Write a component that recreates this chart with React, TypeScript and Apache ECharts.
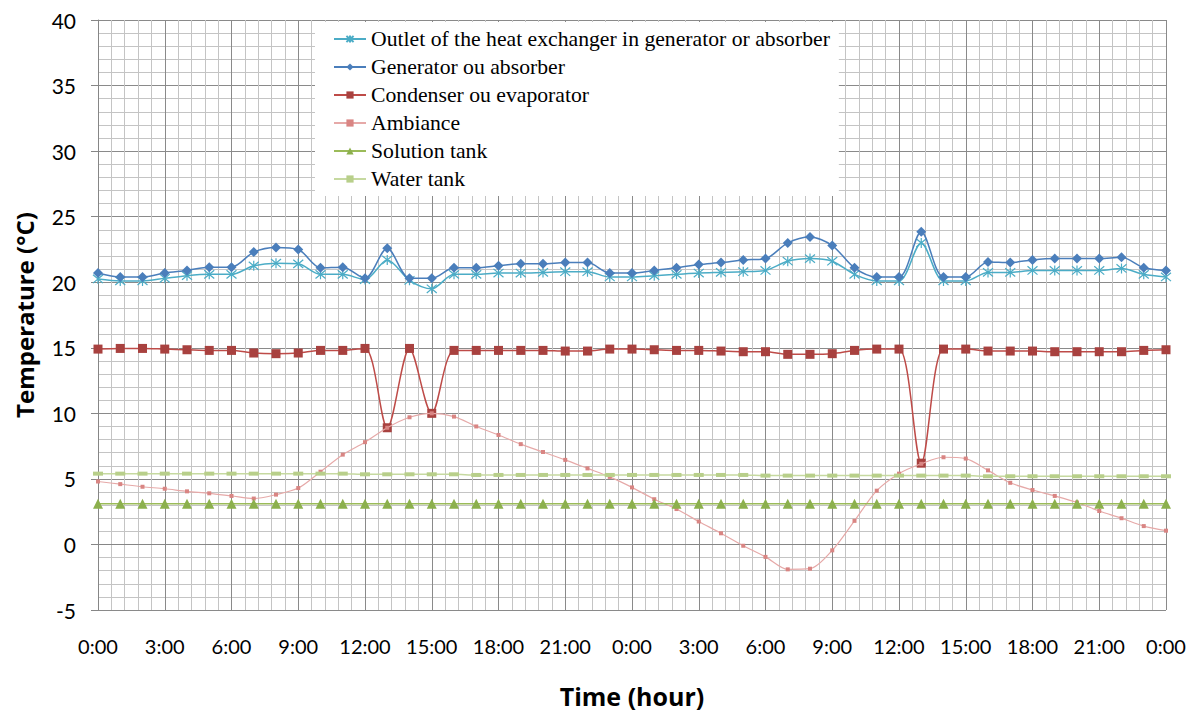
import React, { useEffect, useRef } from "react";
import * as echarts from "echarts";

const hours = [0, 1, 2, 3, 4, 5, 6, 7, 8, 9, 10, 11, 12, 13, 14, 15, 16, 17, 18, 19, 20, 21, 22, 23, 24, 25, 26, 27, 28, 29, 30, 31, 32, 33, 34, 35, 36, 37, 38, 39, 40, 41, 42, 43, 44, 45, 46, 47, 48];

const outletHX = [20.25, 20.1, 20.1, 20.3, 20.5, 20.6, 20.6, 21.25, 21.45, 21.4, 20.6, 20.6, 20.2, 21.7, 20.15, 19.5, 20.6, 20.6, 20.7, 20.7, 20.75, 20.8, 20.8, 20.4, 20.4, 20.5, 20.6, 20.7, 20.75, 20.8, 20.9, 21.6, 21.8, 21.6, 20.6, 20.1, 20.1, 23.0, 20.1, 20.1, 20.75, 20.75, 20.9, 20.9, 20.9, 20.9, 21.05, 20.6, 20.4];

const generator = [20.7, 20.4, 20.4, 20.7, 20.9, 21.15, 21.15, 22.3, 22.65, 22.5, 21.1, 21.15, 20.3, 22.6, 20.3, 20.3, 21.1, 21.1, 21.25, 21.4, 21.4, 21.5, 21.5, 20.7, 20.7, 20.9, 21.1, 21.35, 21.5, 21.7, 21.8, 23.0, 23.45, 22.8, 21.1, 20.4, 20.4, 23.85, 20.4, 20.4, 21.55, 21.5, 21.7, 21.8, 21.8, 21.8, 21.9, 21.1, 20.9];

const condenser = [14.9, 14.95, 14.95, 14.9, 14.85, 14.8, 14.8, 14.6, 14.55, 14.6, 14.8, 14.8, 14.95, 8.9, 14.95, 10.0, 14.8, 14.8, 14.8, 14.8, 14.8, 14.75, 14.75, 14.9, 14.9, 14.85, 14.8, 14.8, 14.75, 14.7, 14.7, 14.5, 14.5, 14.55, 14.8, 14.9, 14.9, 6.2, 14.9, 14.9, 14.75, 14.75, 14.75, 14.7, 14.7, 14.7, 14.7, 14.8, 14.85];

const ambiance = [4.8, 4.6, 4.4, 4.25, 4.05, 3.9, 3.7, 3.5, 3.8, 4.3, 5.55, 6.85, 7.8, 8.9, 9.7, 10.0, 9.75, 9.0, 8.35, 7.65, 7.05, 6.45, 5.8, 5.15, 4.35, 3.45, 2.7, 1.75, 0.85, -0.1, -0.95, -1.9, -1.85, -0.45, 1.8, 4.1, 5.4, 6.15, 6.65, 6.55, 5.65, 4.7, 4.15, 3.7, 3.2, 2.55, 2.0, 1.4, 1.05];

const solutionTank = [3.1, 3.1, 3.1, 3.1, 3.1, 3.1, 3.1, 3.1, 3.1, 3.1, 3.1, 3.1, 3.1, 3.1, 3.1, 3.1, 3.1, 3.1, 3.1, 3.1, 3.1, 3.1, 3.1, 3.1, 3.1, 3.1, 3.1, 3.1, 3.1, 3.1, 3.1, 3.1, 3.1, 3.1, 3.1, 3.1, 3.1, 3.1, 3.1, 3.1, 3.1, 3.1, 3.1, 3.1, 3.1, 3.1, 3.1, 3.1, 3.1];

const waterTank = [5.4, 5.4, 5.4, 5.4, 5.4, 5.4, 5.4, 5.4, 5.4, 5.4, 5.4, 5.4, 5.35, 5.35, 5.35, 5.35, 5.35, 5.3, 5.3, 5.3, 5.3, 5.3, 5.3, 5.3, 5.3, 5.3, 5.3, 5.3, 5.3, 5.3, 5.25, 5.25, 5.25, 5.25, 5.25, 5.25, 5.25, 5.25, 5.25, 5.25, 5.2, 5.2, 5.2, 5.2, 5.2, 5.2, 5.2, 5.2, 5.2];

const seriesNames = [
  "Outlet of the heat exchanger in generator or absorber",
  "Generator ou absorber",
  "Condenser ou evaporator",
  "Ambiance",
  "Solution tank",
  "Water tank",
];

const yTitle = "Temperature (°C)";
const xTitle = "Time (hour)";

const pair = (arr: number[]) => hours.map((h, i) => [h, arr[i]]);

const SANS = "Lato, 'Open Sans', sans-serif";
const TITLE = "'Open Sans', Lato, sans-serif";
const SERIF = "'Liberation Serif', 'DejaVu Serif', serif";

export default function App() {
  const ref = useRef<HTMLDivElement>(null);
  useEffect(() => {
    if (!ref.current) return;
    const chart = echarts.init(ref.current, undefined, { renderer: "svg" });
    const asterisk = "path://M0,0L10,10M0,10L10,0M5,-1L5,11";
    const option: any = {
      animation: false,
      backgroundColor: "#ffffff",
      grid: { left: 98, right: 31, top: 20, bottom: 97 },
      legend: {
        orient: "vertical",
        left: 315,
        top: 22,
        padding: [6, 9, 6, 18],
        backgroundColor: "#ffffff",
        itemWidth: 32,
        itemHeight: 9,
        itemGap: 6,
        textStyle: { fontFamily: SERIF, fontSize: 21.7, color: "#000", lineHeight: 22 },
        data: seriesNames,
      },
      xAxis: {
        type: "value",
        min: 0,
        max: 48,
        interval: 3,
        axisLine: { show: true, lineStyle: { color: "#868686", width: 1 } },
        axisTick: { show: true, length: 7, lineStyle: { color: "#868686" } },
        axisLabel: {
          fontFamily: SANS,
          fontSize: 20,
          color: "#000",
          margin: 26,
          formatter: (v: number) => `${v % 24}:00`,
        },
        splitLine: { show: true, lineStyle: { color: "#8a8a8a", width: 1 } },
        minorTick: { show: false, splitNumber: 5 },
        minorSplitLine: { show: true, lineStyle: { color: "#c4c4c4", width: 1 } },
        name: xTitle,
        nameLocation: "middle",
        nameGap: 73,
        nameTextStyle: { fontFamily: TITLE, fontSize: 25, fontWeight: "bold", color: "#000" },
      },
      yAxis: {
        type: "value",
        min: -5,
        max: 40,
        interval: 5,
        axisLine: { show: true, lineStyle: { color: "#868686", width: 1 } },
        axisTick: { show: true, length: 7, lineStyle: { color: "#868686" } },
        axisLabel: { fontFamily: SANS, fontSize: 21, color: "#000", margin: 22 },
        splitLine: { show: true, lineStyle: { color: "#8a8a8a", width: 1 } },
        minorTick: { show: false, splitNumber: 5 },
        minorSplitLine: { show: true, lineStyle: { color: "#c4c4c4", width: 1 } },
        name: yTitle,
        nameLocation: "middle",
        nameGap: 62,
        nameTextStyle: { fontFamily: TITLE, fontSize: 24, fontWeight: "bold", color: "#000" },
      },
      series: [
        {
          name: seriesNames[0],
          type: "line",
          smooth: 0.3,
          data: pair(outletHX),
          symbol: asterisk,
          symbolSize: 10,
          lineStyle: { color: "#4BACC6", width: 1.5 },
          itemStyle: { color: "#4BACC6", borderColor: "#4BACC6", borderWidth: 1.2 },
          z: 3,
        },
        {
          name: seriesNames[1],
          type: "line",
          smooth: 0.3,
          data: pair(generator),
          symbol: "diamond",
          symbolSize: 10,
          lineStyle: { color: "#4A7EBB", width: 1.5 },
          itemStyle: { color: "#4A7EBB" },
          z: 4,
        },
        {
          name: seriesNames[2],
          type: "line",
          smooth: 0.3,
          data: pair(condenser),
          symbol: "rect",
          symbolSize: 9,
          lineStyle: { color: "#BE4B48", width: 1.5 },
          itemStyle: { color: "#A8413F" },
          z: 5,
        },
        {
          name: seriesNames[3],
          type: "line",
          smooth: 0.3,
          data: pair(ambiance),
          symbol: "rect",
          symbolSize: 4,
          lineStyle: { color: "#E6A9A8", width: 1.2 },
          itemStyle: { color: "#D98583" },
          z: 6,
        },
        {
          name: seriesNames[4],
          type: "line",
          smooth: 0.3,
          data: pair(solutionTank),
          symbol: "triangle",
          symbolSize: 10,
          lineStyle: { color: "#9BBB59", width: 1.5 },
          itemStyle: { color: "#8CB04D" },
          z: 7,
        },
        {
          name: seriesNames[5],
          type: "line",
          smooth: 0.3,
          data: pair(waterTank),
          symbol: "rect",
          symbolSize: [10, 4],
          lineStyle: { color: "#C6D9A0", width: 1.5 },
          itemStyle: { color: "#B8CF8A" },
          z: 8,
        },
      ],
    };
    chart.setOption(option);
    return () => chart.dispose();
  }, []);
  return (
    <div
      ref={ref}
      style={{ position: "fixed", left: 0, top: 0, width: 1197, height: 713 }}
    />
  );
}
